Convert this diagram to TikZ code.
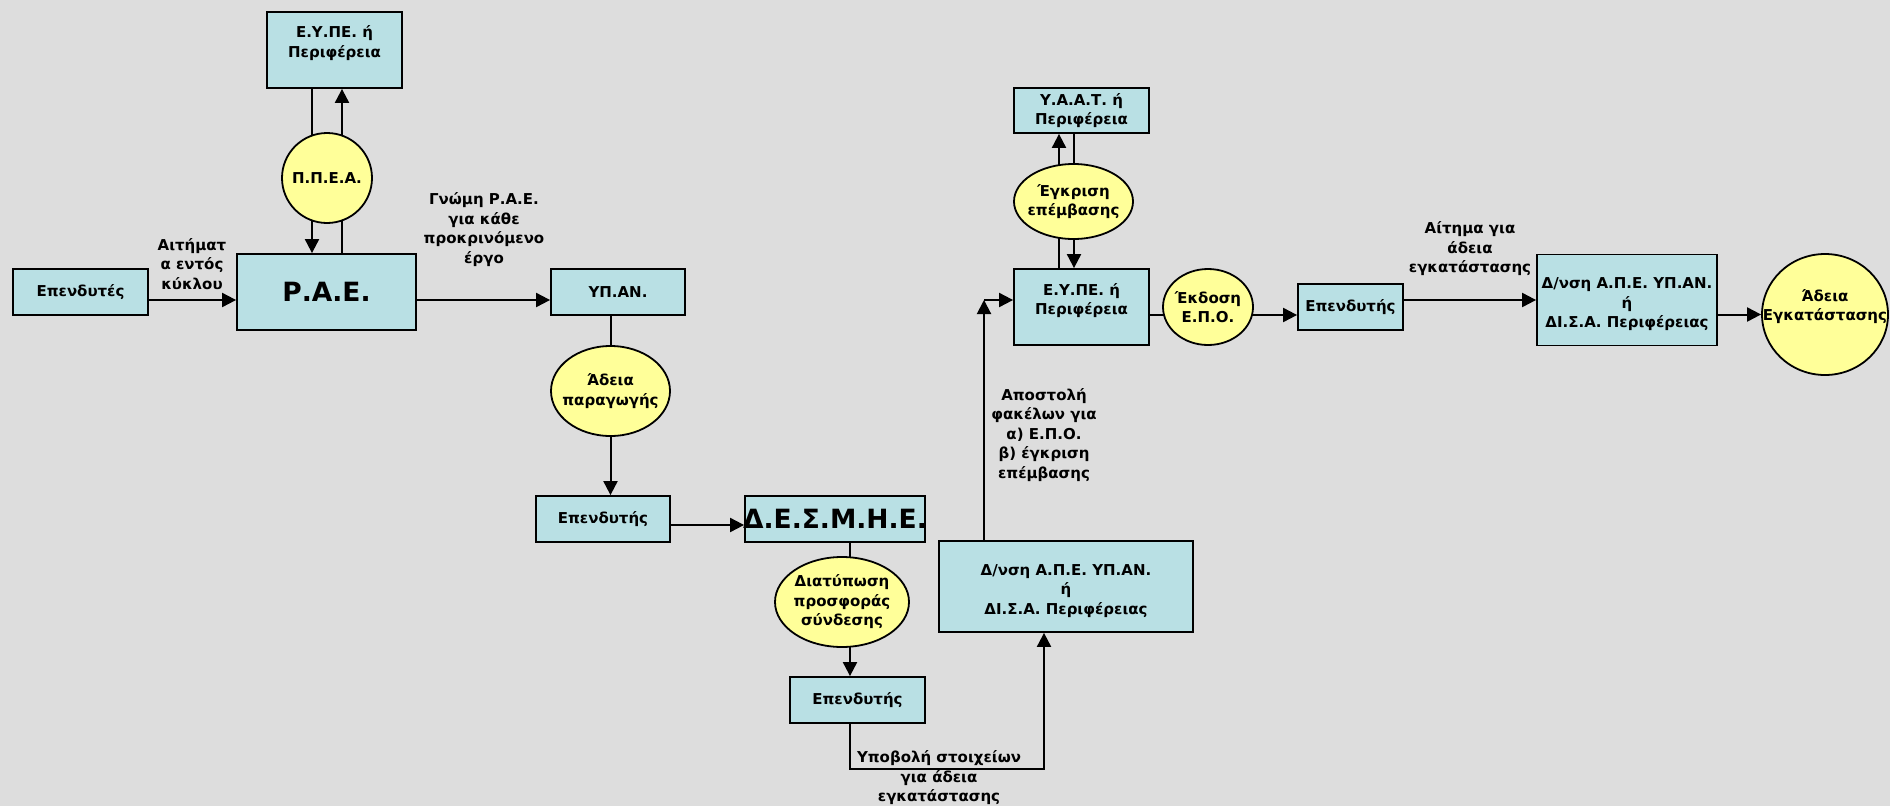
\documentclass[tikz,border=0pt]{standalone}
\usepackage{fontspec}
\setmainfont{DejaVu Sans}
\usetikzlibrary{arrows.meta,shapes.geometric}
\definecolor{boxcol}{RGB}{185,224,228}
\definecolor{bubcol}{RGB}{255,255,153}
\definecolor{bgcol}{RGB}{221,221,221}
\pgfdeclarelayer{wires}
\pgfsetlayers{wires,main}
\newcommand{\zl}[1]{\makebox[0pt]{#1}}

\begin{document}
\begin{tikzpicture}[x=1pt,y=-1pt,font=\fontsize{15}{19.5}\selectfont\bfseries]
\tikzstyle{box}=[draw,fill=boxcol,line width=1.8pt,inner sep=0pt,align=center]
\tikzstyle{bubble}=[draw,fill=bubcol,ellipse,line width=1.8pt,inner sep=0pt,align=center]
\tikzstyle{lbl}=[align=center,inner sep=0pt]
\tikzstyle{arr}=[line width=2pt,-{Triangle[length=14pt,width=14pt]}]
\tikzstyle{big}=[font=\fontsize{26.5}{30}\selectfont\bfseries]
\begin{pgfonlayer}{wires}
\fill[bgcol] (0,0) rectangle (1890,806);
\end{pgfonlayer}
\node[box,minimum width=135pt,minimum height=46pt] (inv1) at (80.5,292) {Επενδυτές};
\node[box,big,minimum width=179pt,minimum height=76pt] (rae) at (326.5,292) {Ρ.Α.Ε.};
\node[box,minimum width=135pt,minimum height=76pt] (eype1) at (334.5,50) {Ε.Υ.ΠΕ. ή\\Περιφέρεια\\[-3pt]~};
\node[box,minimum width=134pt,minimum height=46pt] (ypan) at (618,292) {ΥΠ.ΑΝ.};
\node[box,minimum width=134pt,minimum height=46pt] (inv2) at (603,519) {Επενδυτής};
\node[box,big,minimum width=180pt,minimum height=46pt] (desmie) at (835,519) {\zl{Δ.Ε.Σ.Μ.Η.Ε.}};
\node[box,minimum width=135pt,minimum height=46pt] (inv3) at (857.5,700) {Επενδυτής};
\node[box,minimum width=254pt,minimum height=91pt] (dnsh1) at (1066,586.5) {~\\Δ/νση Α.Π.Ε. ΥΠ.ΑΝ.\\ή\\ΔΙ.Σ.Α. Περιφέρειας};
\node[box,minimum width=135pt,minimum height=76pt] (eype2) at (1081.5,307) {Ε.Υ.ΠΕ. ή\\Περιφέρεια\\[-3pt]~};
\node[box,minimum width=135pt,minimum height=45pt] (yaat) at (1081.5,110.5) {Υ.Α.Α.Τ. ή\\Περιφέρεια};
\node[box,minimum width=105pt,minimum height=46pt] (inv4) at (1350.5,307) {Επενδυτής};
\node[box,minimum width=180pt,minimum height=91pt] (dnsh2) at (1627,300) {~\\\zl{Δ/νση Α.Π.Ε. ΥΠ.ΑΝ.}\\ή\\\zl{ΔΙ.Σ.Α. Περιφέρειας}};
\node[bubble,minimum width=90pt,minimum height=90pt] (ppea) at (327,178) {\zl{Π.Π.Ε.Α.}};
\node[bubble,minimum width=119pt,minimum height=90pt] (adprod) at (610.5,391) {\zl{Άδεια}\\\zl{παραγωγής}};
\node[bubble,minimum width=134pt,minimum height=90pt] (offer) at (842,602) {\zl{Διατύπωση}\\\zl{προσφοράς}\\\zl{σύνδεσης}};
\node[bubble,minimum width=119pt,minimum height=75pt] (approv) at (1073.5,201.5) {\zl{Έγκριση}\\\zl{επέμβασης}};
\node[bubble,minimum width=90pt,minimum height=76pt] (epo) at (1208,307) {\zl{Έκδοση}\\\zl{Ε.Π.Ο.}};
\node[bubble,minimum width=126pt,minimum height=121pt] (adinst) at (1825,314.5) {\zl{Άδεια}\\\zl{Εγκατάστασης}\\~};
\node[lbl] (l1) at (192,264) {Αιτήματ\\α εντός\\κύκλου};
\node[lbl] (l2) at (484,229.5) {Γνώμη Ρ.Α.Ε.\\για κάθε\\προκρινόμενο\\έργο};
\node[lbl] (l3) at (939,778) {Υποβολή στοιχείων\\για άδεια\\εγκατάστασης};
\node[lbl] (l4) at (1044,435) {Αποστολή\\φακέλων για\\α) Ε.Π.Ο.\\β) έγκριση\\επέμβασης};
\node[lbl] (l5) at (1470,249) {Αίτημα για\\άδεια\\εγκατάστασης};
\coordinate (pl) at ([xshift=-15pt]ppea.center);
\coordinate (pr) at ([xshift=15pt]ppea.center);
\coordinate (oc) at ([xshift=8pt]offer.center);
\coordinate (sc) at ([xshift=-22pt]dnsh1.south);
\coordinate (dn) at ([xshift=-82pt]dnsh1.north);
\coordinate (ew) at ([yshift=7pt]eype2.west);
\coordinate (al) at ([xshift=-14.5pt]approv.center);
\coordinate (ar) at ([xshift=0.5pt]approv.center);
\coordinate (ey) at ([yshift=-8pt]epo.center);
\begin{pgfonlayer}{wires}
\draw[arr] ([yshift=-8pt]inv1.east) -- ([yshift=-8pt]rae.west);
\draw[arr] ([yshift=-8pt]rae.east) -- ([yshift=-8pt]ypan.west);
\draw[arr] (eype1.south -| pl) -- (rae.north -| pl);
\draw[arr] (rae.north -| pr) -- (eype1.south -| pr);
\draw[arr] (ypan.south -| adprod) -- (inv2.north -| adprod);
\draw[arr] ([yshift=-6pt]inv2.east) -- ([yshift=-6pt]desmie.west);
\draw[arr] (desmie.south -| oc) -- (inv3.north -| oc);
\draw[arr] (inv3.south -| oc) -- ++(0,45) -| (sc);
\draw[arr] (dn) -- (dn |- ew);
\draw[arr] (dn |- ew) -- (ew);
\draw[arr] (eype2.north -| al) -- (yaat.south -| al);
\draw[arr] (yaat.south -| ar) -- (eype2.north -| ar);
\draw[arr] (eype2.east |- ey) -- (inv4.west |- ey);
\draw[arr] ([yshift=7pt]inv4.east) -- ([yshift=7pt]inv4.east -| dnsh2.west);
\draw[arr] (dnsh2.east |- adinst) -- (adinst.west);
\end{pgfonlayer}
\end{tikzpicture}
\end{document}
